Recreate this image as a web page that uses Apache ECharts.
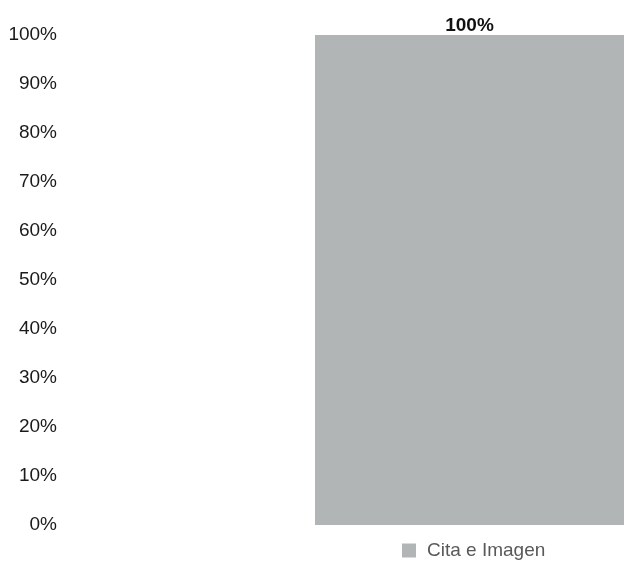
<!DOCTYPE html>
<html>
<head>
<meta charset="utf-8">
<script src="https://cdn.jsdelivr.net/npm/echarts@6/dist/echarts.min.js"></script>
<style>html,body{margin:0;padding:0;background:#fff}#c{width:625px;height:563px}</style>
</head>
<body>
<div id="c"></div>
<script>
const categories = ['Cita e Imagen'];
const seriesName = 'Cita e Imagen';
const values = [100];
const yTicks = [0, 10, 20, 30, 40, 50, 60, 70, 80, 90, 100];

const FONT = '"Liberation Sans", Arial, sans-serif';
const chart = echarts.init(document.getElementById('c'));
chart.setOption({
  animation: false,
  grid: { left: 315, right: 1, top: 35, bottom: 38, containLabel: false },
  xAxis: {
    type: 'category', data: categories,
    axisLine: { show: false }, axisTick: { show: false }, axisLabel: { show: false }
  },
  yAxis: {
    type: 'value', min: yTicks[0], max: yTicks[yTicks.length - 1], interval: 10,
    axisLine: { show: false }, axisTick: { show: false }, splitLine: { show: false },
    axisLabel: { formatter: '{value}%', margin: 258, color: '#1a1a1a', fontSize: 19, fontFamily: FONT }
  },
  legend: {
    data: [seriesName], left: 402, top: 541, padding: 0,
    itemWidth: 14, itemHeight: 14, itemGap: 10,
    icon: 'rect',
    textStyle: { color: '#595959', fontSize: 19, fontFamily: FONT, padding: [0, 0, 0, 6] }
  },
  series: [{
    name: seriesName, type: 'bar', data: values, barWidth: '100%',
    itemStyle: { color: '#B2B5B6' },
    label: { show: true, position: 'top', distance: 0, formatter: '{c}%', color: '#111', fontWeight: 'bold', fontSize: 19, fontFamily: FONT }
  }]
});
</script>
</body>
</html>
